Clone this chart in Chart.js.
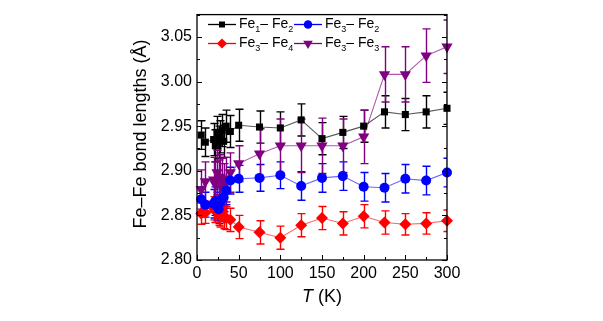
<!DOCTYPE html>
<html>
<head>
<meta charset="utf-8">
<script src="https://cdn.jsdelivr.net/npm/chart.js@4"></script>
<style>
  html, body { margin: 0; padding: 0; background: #fff; }
  #wrap { width: 603px; height: 321px; }
</style>
</head>
<body>
<div id="wrap"><canvas id="chart" width="603" height="321"></canvas></div>
<script>
// temperatures (K)
const temps = [5, 10, 20, 22, 24, 26, 28, 30, 32, 35, 40, 50, 75, 100, 125, 150, 175, 200, 225, 250, 275, 300];

// bond lengths (Å)
const fe1fe2 = [2.940, 2.932, 2.935, 2.928, 2.943, 2.932, 2.938, 2.945, 2.933, 2.950, 2.944, 2.951, 2.949, 2.948, 2.957, 2.936, 2.943, 2.950, 2.966, 2.963, 2.966, 2.970];
const fe3fe2 = [2.868, 2.862, 2.863, 2.866, 2.860, 2.857, 2.865, 2.868, 2.870, 2.878, 2.889, 2.891, 2.892, 2.895, 2.883, 2.892, 2.894, 2.882, 2.881, 2.891, 2.889, 2.898];
const fe3fe4 = [2.852, 2.853, 2.858, 2.855, 2.860, 2.852, 2.850, 2.856, 2.848, 2.847, 2.845, 2.837, 2.831, 2.825, 2.839, 2.847, 2.841, 2.849, 2.842, 2.840, 2.841, 2.844];
const fe3fe3 = [2.879, 2.888, 2.890, 2.885, 2.898, 2.887, 2.893, 2.889, 2.883, 2.890, 2.898, 2.908, 2.919, 2.928, 2.928, 2.928, 2.928, 2.938, 3.008, 3.008, 3.029, 3.039];

// error bars (± Å)
const err12 = [0.016, 0.016, 0.018, 0.018, 0.018, 0.018, 0.018, 0.018, 0.018, 0.018, 0.018, 0.018, 0.018, 0.018, 0.018, 0.018, 0.018, 0.018, 0.018, 0.018, 0.018, 0.018];
const err32 = [0.014, 0.014, 0.016, 0.016, 0.016, 0.016, 0.016, 0.016, 0.016, 0.016, 0.015, 0.015, 0.015, 0.015, 0.016, 0.016, 0.016, 0.016, 0.016, 0.016, 0.016, 0.016];
const err34 = [0.012, 0.012, 0.013, 0.013, 0.013, 0.013, 0.013, 0.013, 0.013, 0.013, 0.013, 0.013, 0.013, 0.013, 0.013, 0.013, 0.013, 0.013, 0.013, 0.012, 0.012, 0.012];
const err33 = [0.022, 0.022, 0.025, 0.025, 0.025, 0.025, 0.025, 0.025, 0.025, 0.025, 0.022, 0.020, 0.028, 0.030, 0.030, 0.031, 0.030, 0.030, 0.031, 0.031, 0.030, 0.030];

const xTicks = [0, 50, 100, 150, 200, 250, 300];
const yTicks = [2.80, 2.85, 2.90, 2.95, 3.00, 3.05];

const FONT = "'Liberation Sans', Arial, sans-serif";

function pts(ys) {
  return temps.map((t, i) => ({ x: t, y: ys[i] }));
}

const series = [
  { label: ['Fe', '1', '– Fe', '2'], data: fe1fe2, err: err12, color: '#000000', line: 'rgba(0,0,0,0.65)', style: 'rect', radius: 5, rot: 0 },
  { label: ['Fe', '3', '– Fe', '2'], data: fe3fe2, err: err32, color: '#0000ff', line: 'rgba(0,0,255,0.6)', style: 'circle', radius: 5, rot: 0 },
  { label: ['Fe', '3', '– Fe', '4'], data: fe3fe4, err: err34, color: '#ff0000', line: 'rgba(255,0,0,0.6)', style: 'rectRot', radius: 6, rot: 0 },
  { label: ['Fe', '3', '– Fe', '3'], data: fe3fe3, err: err33, color: '#800080', line: 'rgba(128,0,128,0.65)', style: 'triangle', radius: 6.5, rot: 180 }
];

const decor = {
  id: 'decor',
  beforeDatasetsDraw(chart) {
    const { ctx, chartArea: a } = chart;
    const xs = chart.scales.x, ys = chart.scales.y;
    ctx.save();
    ctx.beginPath();
    ctx.rect(a.left, a.top, a.right - a.left, a.bottom - a.top);
    ctx.clip();
    ctx.lineWidth = 1.4;
    series.forEach(s => {
      ctx.strokeStyle = s.color;
      s.data.forEach((v, i) => {
        const px = Math.round(xs.getPixelForValue(temps[i])) + 0.5;
        const y1 = ys.getPixelForValue(v + s.err[i]);
        const y2 = ys.getPixelForValue(v - s.err[i]);
        ctx.beginPath();
        ctx.moveTo(px, y1); ctx.lineTo(px, y2);
        ctx.moveTo(px - 4, y1); ctx.lineTo(px + 4, y1);
        ctx.moveTo(px - 4, y2); ctx.lineTo(px + 4, y2);
        ctx.stroke();
      });
    });
    ctx.restore();
  },
  afterDraw(chart) {
    const { ctx, chartArea: a } = chart;
    const xs = chart.scales.x, ys = chart.scales.y;
    ctx.save();
    // frame
    ctx.strokeStyle = '#000';
    ctx.lineWidth = 1.3;
    ctx.strokeRect(a.left, a.top, a.right - a.left, a.bottom - a.top);
    // inward ticks
    ctx.lineWidth = 1;
    ctx.beginPath();
    for (let t = 0; t <= 300; t += 25) {
      const px = Math.round(xs.getPixelForValue(t)) + 0.5;
      const len = t % 50 === 0 ? 5 : 3;
      ctx.moveTo(px, a.bottom); ctx.lineTo(px, a.bottom - len);
    }
    for (let k = 0; k <= 11; k++) {
      const v = 2.80 + k * 0.025;
      const py = Math.round(ys.getPixelForValue(v)) + 0.5;
      const len = k % 2 === 0 ? 5 : 3;
      ctx.moveTo(a.left, py); ctx.lineTo(a.left + len, py);
      ctx.moveTo(a.right, py); ctx.lineTo(a.right - len, py);
    }
    ctx.stroke();

    // axis titles
    ctx.fillStyle = '#000';
    ctx.textBaseline = 'middle';
    ctx.font = 'italic 18px ' + FONT;
    const tW = ctx.measureText('T').width;
    ctx.font = '18px ' + FONT;
    const kW = ctx.measureText(' (K)').width;
    const cx = (a.left + a.right) / 2 - (tW + kW) / 2;
    ctx.font = 'italic 18px ' + FONT;
    ctx.textAlign = 'left';
    ctx.fillText('T', cx, 297);
    ctx.font = '18px ' + FONT;
    ctx.fillText(' (K)', cx + tW, 297);

    ctx.save();
    ctx.translate(141, 134);
    ctx.rotate(-Math.PI / 2);
    ctx.textAlign = 'center';
    ctx.fillText('Fe–Fe bond lengths (Å)', 0, 0);
    ctx.restore();

    // legend
    const cols = [208, 294];
    const rows = [24.5, 43.5];
    series.forEach((s, i) => {
      const lx = cols[i % 2], ly = rows[Math.floor(i / 2)];
      ctx.strokeStyle = s.color;
      ctx.lineWidth = 1.3;
      ctx.beginPath();
      ctx.moveTo(lx, ly); ctx.lineTo(lx + 28, ly);
      ctx.stroke();
      ctx.fillStyle = s.color;
      Chart.helpers.drawPoint(ctx, { pointStyle: s.style, radius: s.radius * 0.85, rotation: s.rot, borderWidth: 0 }, lx + 14, ly);
      ctx.fillStyle = '#000';
      let tx = lx + 31;
      const [a1, b1, a2, b2] = s.label;
      ctx.font = '14px ' + FONT;
      ctx.fillText(a1, tx, ly); tx += ctx.measureText(a1).width;
      ctx.font = '9px ' + FONT;
      ctx.fillText(b1, tx, ly + 5); tx += ctx.measureText(b1).width;
      ctx.font = '14px ' + FONT;
      ctx.fillText(a2, tx, ly); tx += ctx.measureText(a2).width;
      ctx.font = '9px ' + FONT;
      ctx.fillText(b2, tx, ly + 5);
    });
    ctx.restore();
  }
};

const ctx = document.getElementById('chart').getContext('2d');
const myChart = new Chart(ctx, {
  type: 'line',
  data: {
    datasets: series.map(s => ({
      data: pts(s.data),
      borderColor: s.line,
      borderWidth: 1.1,
      backgroundColor: s.color,
      pointBackgroundColor: s.color,
      pointBorderColor: s.color,
      pointBorderWidth: 0,
      pointStyle: s.style,
      pointRadius: s.radius,
      pointRotation: s.rot,
      fill: false,
      tension: 0,
      clip: false
    }))
  },
  options: {
    responsive: false,
    animation: false,
    events: [],
    layout: { padding: { left: 0, right: 156, top: 10, bottom: 0 } },
    plugins: { legend: { display: false }, tooltip: { enabled: false } },
    scales: {
      x: {
        type: 'linear',
        min: 0,
        max: 300,
        afterBuildTicks: (scale) => { scale.ticks = xTicks.map(v => ({ value: v })); },
        afterFit: (scale) => { scale.height = 61; },
        grid: { display: false, drawTicks: false },
        border: { display: false },
        ticks: { color: '#000', padding: 4, maxRotation: 0, font: { family: FONT, size: 16 } }
      },
      y: {
        type: 'linear',
        min: 2.80,
        max: 3.075,
        afterBuildTicks: (scale) => { scale.ticks = yTicks.map(v => ({ value: v })); },
        afterFit: (scale) => { scale.width = 197; },
        grid: { display: false, drawTicks: false },
        border: { display: false },
        ticks: {
          color: '#000',
          padding: 5,
          font: { family: FONT, size: 16 },
          callback: (v) => v.toFixed(2)
        }
      }
    }
  },
  plugins: [decor]
});
</script>
</body>
</html>
